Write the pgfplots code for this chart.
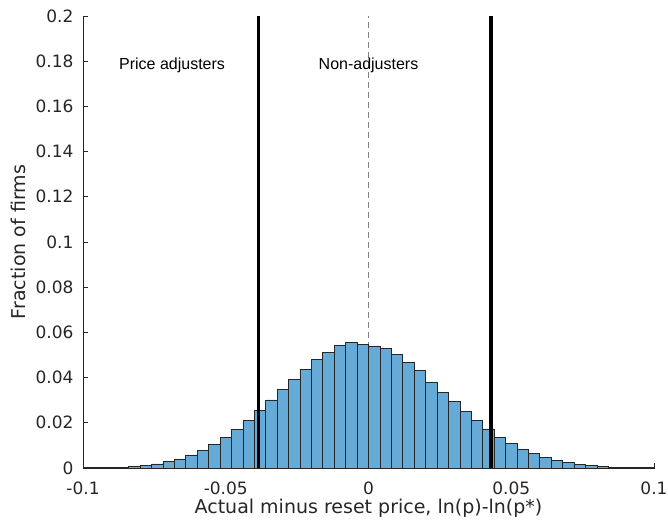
\documentclass[border=0pt]{standalone}
\usepackage{pgfplots}
\pgfplotsset{compat=1.18}
\usepackage{fontspec}
\setmainfont{DejaVu Sans}
\newfontfamily\libsans{Liberation Sans}
\definecolor{barblue}{RGB}{102,170,215}
\definecolor{axgrey}{RGB}{38,38,38}
\pgfplotstableread{
x y
-0.100 0.0001
-0.096 0.0002
-0.092 0.0003
-0.088 0.0004
-0.084 0.0007
-0.080 0.0010
-0.076 0.0018
-0.072 0.0028
-0.068 0.0040
-0.064 0.0058
-0.060 0.0078
-0.056 0.0103
-0.052 0.0134
-0.048 0.0170
-0.044 0.0209
-0.040 0.0255
-0.036 0.0301
-0.032 0.0349
-0.028 0.0392
-0.024 0.0438
-0.020 0.0481
-0.016 0.0510
-0.012 0.0541
-0.008 0.0555
-0.004 0.0546
0.000 0.0540
0.004 0.0530
0.008 0.0503
0.012 0.0469
0.016 0.0431
0.020 0.0381
0.024 0.0336
0.028 0.0294
0.032 0.0251
0.036 0.0211
0.040 0.0173
0.044 0.0137
0.048 0.0108
0.052 0.0084
0.056 0.0065
0.060 0.0047
0.064 0.0032
0.068 0.0024
0.072 0.0016
0.076 0.0010
0.080 0.0007
0.084 0.0004
0.088 0.0003
0.092 0.0002
0.096 0.0001
0.100 0.0001
}\histdata
\begin{document}
\begin{tikzpicture}
\useasboundingbox (-83pt,-53pt) rectangle (585pt,468pt);
\begin{axis}[
  at={(0,0)}, anchor=south west,
  scale only axis, width=571pt, height=452pt,
  xmin=-0.1, xmax=0.1, ymin=0, ymax=0.2,
  axis x line*=bottom, axis y line*=left,
  axis line style={axgrey, line width=0.6pt},
  tick style={axgrey, line width=0.6pt},
  tick align=inside, major tick length=5pt,
  xtick={-0.1,-0.05,0,0.05,0.1},
  ytick={0,0.02,0.04,0.06,0.08,0.1,0.12,0.14,0.16,0.18,0.2},
  scaled ticks=false,
  /pgf/number format/assume math mode=true,
  yticklabel style={/pgf/number format/fixed, /pgf/number format/precision=2, font=\fontsize{17}{20}\selectfont, text=axgrey, xshift=-6pt},
  xticklabel style={/pgf/number format/fixed, /pgf/number format/precision=2, font=\fontsize{17}{20}\selectfont, text=axgrey, yshift=-10pt},
  xlabel={Actual minus reset price, ln(p)-ln(p*)},
  ylabel={Fraction of firms},
  xlabel style={font=\fontsize{19}{22}\selectfont, text=axgrey, at={(axis description cs:0.5,-0.0885)}, anchor=center},
  ylabel style={font=\fontsize{19}{22}\selectfont, text=axgrey, at={(axis description cs:-0.1138,0.5)}, anchor=center},
  clip=false,
]
\addplot[gray, line width=0.8pt, dash pattern=on 6pt off 4pt] coordinates {(0,0) (0,0.2)};
\addplot[ybar interval, fill=barblue, draw=black!85, line width=0.7pt] table[x=x,y=y] {\histdata};
\addplot[black, line width=3.5pt] coordinates {(-0.0385,0) (-0.0385,0.2)};
\addplot[black, line width=3.5pt] coordinates {(0.0429,0) (0.0429,0.2)};
\node[font=\libsans\fontsize{16}{19}\selectfont, text=black] at (axis cs:-0.0688,0.178) {Price adjusters};
\node[font=\libsans\fontsize{16}{19}\selectfont, text=black] at (axis cs:0,0.178) {Non-adjusters};
\end{axis}
\end{tikzpicture}
\end{document}
